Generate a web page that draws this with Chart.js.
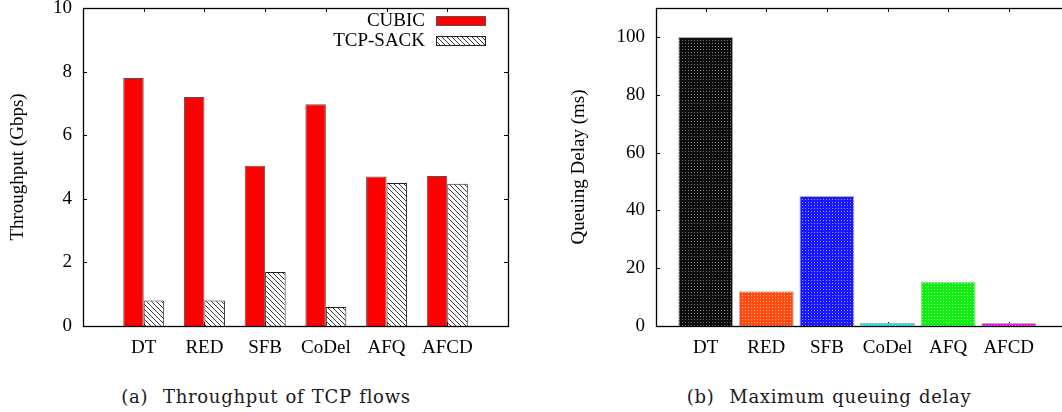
<!DOCTYPE html>
<html><head><meta charset="utf-8">
<script src="https://cdn.jsdelivr.net/npm/chart.js@4/dist/chart.umd.min.js"></script>
<style>
html,body{margin:0;padding:0;background:#fff;overflow:hidden;width:1062px;height:412px;}
#wa{position:absolute;left:0;top:0;width:520px;height:372px;}
#wb{position:absolute;left:540px;top:0;width:530px;height:372px;}
.cap{position:absolute;top:387px;font-family:"DejaVu Serif";font-size:18px;letter-spacing:0.7px;word-spacing:1px;white-space:pre;transform:translateX(-50%);color:#1a1a1a;line-height:20px;}
</style></head><body>
<div id="wa"><canvas id="ca"></canvas></div>
<div id="wb"><canvas id="cb"></canvas></div>
<div class="cap" style="left:266px">(a)  Throughput of TCP flows</div>
<div class="cap" style="left:829px">(b)  Maximum queuing delay</div>
<script>
const categories = ['DT','RED','SFB','CoDel','AFQ','AFCD'];
const cubic = [7.8, 7.2, 5.04, 6.97, 4.7, 4.72];
const tcpSack = [0.8, 0.8, 1.7, 0.6, 4.5, 4.47];
const maxDelay = [100, 12, 45, 1, 15.3, 1];
const throughputTicks = [0, 2, 4, 6, 8, 10];
const delayTicks = [0, 20, 40, 60, 80, 100];

const SERIF = '"Liberation Serif", "Times New Roman", serif';
const FONT = {family: SERIF, size: 19};

function hatchPattern() {
  const c = document.createElement('canvas'); c.width = 5; c.height = 5;
  const g = c.getContext('2d');
  g.fillStyle = '#fff'; g.fillRect(0, 0, 5, 5);
  g.strokeStyle = '#222'; g.lineWidth = 0.9;
  [[-1,-1,6,6],[-6,-1,1,6],[4,-1,11,6]].forEach(([a,b,x,y]) => { g.beginPath(); g.moveTo(a,b); g.lineTo(x,y); g.stroke(); });
  return g.createPattern(c, 'repeat');
}
function dotPattern(base, dot) {
  const c = document.createElement('canvas'); c.width = 3; c.height = 3;
  const g = c.getContext('2d');
  g.fillStyle = base; g.fillRect(0, 0, 3, 3);
  g.fillStyle = dot; g.fillRect(1, 1, 1, 1);
  return g.createPattern(c, 'repeat');
}

const frame = {
  id: 'frame',
  beforeDatasetsDraw(chart) {
    const {ctx, chartArea: a, scales: {x, y}} = chart;
    ctx.save(); ctx.strokeStyle = '#000'; ctx.lineWidth = 1;
    y.ticks.forEach(t => {
      const py = Math.round(y.getPixelForValue(t.value)) + 0.5;
      ctx.beginPath(); ctx.moveTo(a.left, py); ctx.lineTo(a.left + 4, py);
      ctx.moveTo(a.right, py); ctx.lineTo(a.right - 4, py); ctx.stroke();
    });
    x.ticks.forEach(t => {
      const px = Math.round(x.getPixelForValue(t.value)) + 0.5;
      ctx.beginPath(); ctx.moveTo(px, a.top); ctx.lineTo(px, a.top + 4);
      ctx.moveTo(px, a.bottom); ctx.lineTo(px, a.bottom - 4); ctx.stroke();
    });
    ctx.restore();
  },
  afterDatasetsDraw(chart) {
    const {ctx, chartArea: a} = chart;
    ctx.save(); ctx.strokeStyle = '#000'; ctx.lineWidth = 1.3;
    ctx.strokeRect(Math.round(a.left) + 0.5, Math.round(a.top) + 0.5, Math.round(a.right - a.left), Math.round(a.bottom - a.top));
    ctx.restore();
  }
};

const keyLegend = {
  id: 'keyLegend',
  afterDraw(chart) {
    const {ctx, chartArea: a} = chart;
    ctx.save();
    ctx.font = '19px ' + SERIF; ctx.textAlign = 'right'; ctx.textBaseline = 'middle'; ctx.fillStyle = '#000';
    chart.data.datasets.forEach((ds, i) => {
      const cy = a.top + 13 + i * 20;
      ctx.fillText(ds.label, a.right - 83, cy);
      ctx.fillStyle = ds.backgroundColor;
      ctx.fillRect(a.right - 72, cy - 5, 50, 10);
      ctx.strokeStyle = ds.borderColor; ctx.lineWidth = 1;
      ctx.strokeRect(a.right - 71.5, cy - 4.5, 49, 9);
      ctx.fillStyle = '#000';
    });
    ctx.restore();
  }
};

function xScale(min, max, h) {
  return {
    type: 'linear', min, max, offset: false,
    afterBuildTicks: s => { s.ticks = categories.map((c, i) => ({value: i})); },
    afterFit: s => { s.height = h; s.paddingLeft = 0; s.paddingRight = 0; },
    ticks: {autoSkip: false, maxRotation: 0, padding: 11, color: '#000', font: FONT,
            callback: v => categories[v] ?? ''},
    grid: {display: false, drawTicks: false}, border: {display: false}
  };
}
function yScale(max, tickVals, w, title, titlePad) {
  return {
    min: 0, max,
    afterBuildTicks: s => { s.ticks = tickVals.map(v => ({value: v})); },
    afterFit: s => { s.width = w; s.paddingTop = 0; s.paddingBottom = 0; },
    ticks: {padding: 11, color: '#000', font: FONT},
    grid: {display: false, drawTicks: false}, border: {display: false},
    title: {display: true, text: title, color: '#000', font: FONT, padding: {top: titlePad, bottom: 0}}
  };
}

const common = {responsive: true, maintainAspectRatio: false, animation: false, devicePixelRatio: 1,
  plugins: {legend: {display: false}, tooltip: {enabled: false}}};

new Chart(document.getElementById('ca'), {
  type: 'bar',
  data: {datasets: [
    {label: 'CUBIC', data: cubic.map((v, i) => ({x: i, y: v})), backgroundColor: '#ff0000', borderColor: '#555', borderWidth: 1,
     categoryPercentage: 0.675, barPercentage: 1},
    {label: 'TCP-SACK', data: tcpSack.map((v, i) => ({x: i, y: v})), backgroundColor: hatchPattern(), borderColor: '#222', borderWidth: 1,
     categoryPercentage: 0.675, barPercentage: 1}
  ]},
  options: Object.assign({}, common, {
    layout: {padding: {top: 8, right: 12, left: 0, bottom: 0}},
    scales: {x: xScale(-1, 6, 46), y: yScale(10, throughputTicks, 83, 'Throughput (Gbps)', 7)}
  }),
  plugins: [frame, keyLegend]
});

const delayColors = [dotPattern('#0c0c0c', '#777'), dotPattern('#ff4a10', '#ffb090'), dotPattern('#1818ff', '#9a9aff'),
                     dotPattern('#00f0f0', '#b0ffff'), dotPattern('#10f010', '#a0ffa0'), dotPattern('#f010f0', '#ffa0ff')];
new Chart(document.getElementById('cb'), {
  type: 'bar',
  data: {datasets: [
    {label: 'Maximum queuing delay', data: maxDelay.map((v, i) => ({x: i, y: v})), backgroundColor: delayColors,
     borderColor: 'rgba(170,170,170,0.9)', borderWidth: 1, categoryPercentage: 0.906, barPercentage: 1}
  ]},
  options: Object.assign({}, common, {
    layout: {padding: {top: 8, right: 4, left: 0, bottom: 0}},
    scales: {x: xScale(-0.82, 5.945, 46), y: yScale(110, delayTicks, 116, 'Queuing Delay (ms)', 28)}
  }),
  plugins: [frame]
});
</script>
</body></html>
